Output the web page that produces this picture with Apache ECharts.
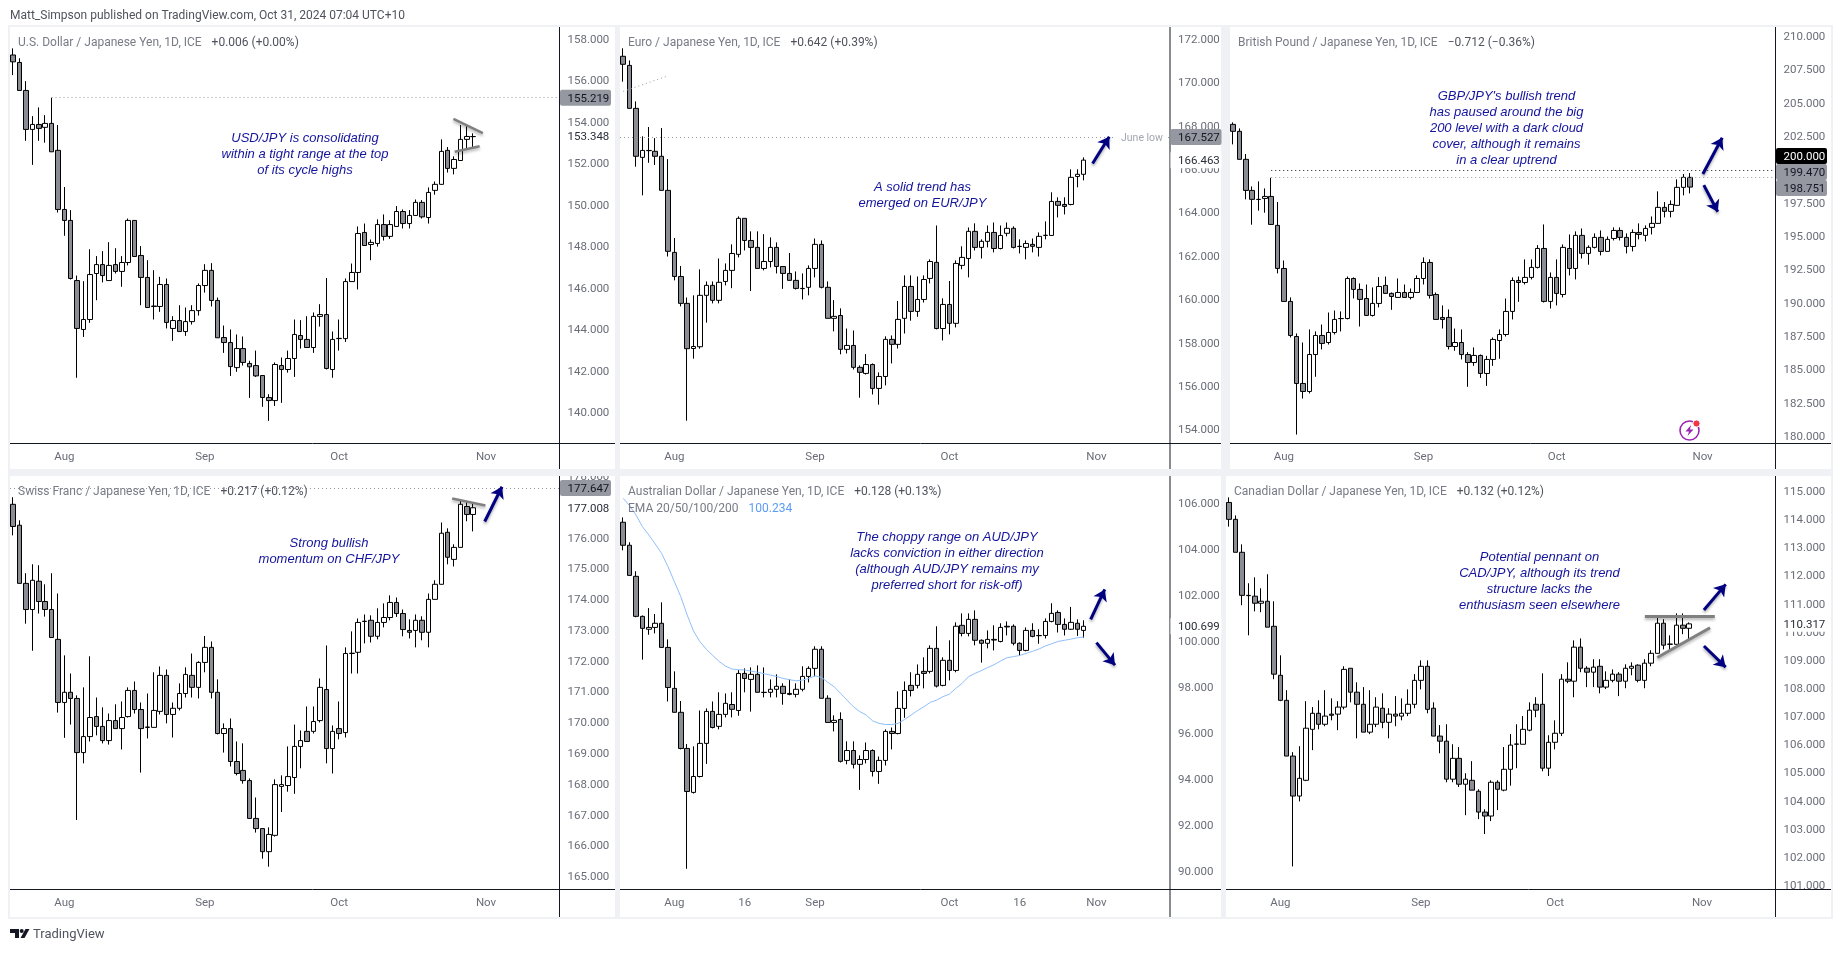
<!DOCTYPE html>
<html>
<head>
<meta charset="utf-8">
<title>JPY crosses</title>
<style>
  html, body { margin: 0; padding: 0; background: #fff; }
  #chart { width: 1842px; height: 958px; }
</style>
<script src="https://cdn.jsdelivr.net/npm/echarts@6/dist/echarts.min.js"></script>
</head>
<body>
<div id="chart"></div>
<script>
// candles are [open, close, low, high]
const usdjpy = [
  [157.28,156.95,156.31,157.60],[156.92,155.57,155.57,157.12],[155.57,153.69,153.14,156.02],[153.69,153.93,151.98,154.33],
  [153.93,153.74,153.14,154.75],[153.79,153.98,153.05,154.38],[153.98,152.61,152.61,155.22],[152.68,149.83,149.68,153.90],
  [149.83,149.30,148.56,150.91],[149.30,146.50,146.45,149.80],[146.40,144.09,141.71,146.64],[144.04,144.52,143.68,146.37],
  [144.52,146.69,144.36,147.91],[146.74,147.17,145.45,147.58],[147.17,146.64,146.31,147.82],[146.40,147.13,146.40,148.25],
  [147.17,146.84,146.74,147.96],[146.84,147.27,146.10,147.58],[147.27,149.30,147.13,149.39],[149.30,147.56,147.56,149.30],
  [147.61,146.55,145.21,148.06],[146.55,145.10,145.10,147.38],[145.17,145.15,144.52,146.90],[145.15,146.21,144.89,146.58],
  [146.21,144.38,144.09,146.50],[144.09,144.47,143.49,144.68],[144.47,143.94,143.94,145.21],[143.94,144.42,143.73,145.10],
  [144.42,144.95,144.28,145.21],[144.95,146.16,144.71,146.26],[146.16,146.89,145.82,147.19],[146.89,145.44,145.15,147.24],
  [145.44,143.64,143.64,145.58],[143.65,143.41,142.91,144.23],[143.41,142.25,141.80,144.04],[142.20,143.12,142.00,143.80],
  [143.12,142.45,142.30,143.70],[142.40,142.24,140.74,142.53],[142.30,141.80,141.75,143.02],[141.82,140.76,140.31,141.82],
  [140.76,140.61,139.63,140.92],[140.61,142.35,140.35,142.45],[142.30,142.11,140.50,142.69],[142.11,142.64,141.96,143.02],
  [142.64,143.80,141.75,144.52],[143.75,143.56,143.12,144.49],[143.56,143.17,143.17,144.68],[143.17,144.67,142.91,144.86],
  [144.67,144.76,144.18,145.26],[144.76,142.16,142.11,146.52],[142.11,143.56,141.71,143.94],[143.60,143.61,143.02,144.52],
  [143.60,146.35,143.44,146.50],[146.35,146.79,146.35,147.22],[146.79,148.67,145.97,149.01],[148.72,148.09,148.09,149.15],
  [148.14,148.24,147.38,148.38],[148.19,149.10,148.04,149.35],[149.10,148.53,148.33,149.59],[148.53,149.10,148.41,149.31],
  [149.01,149.73,149.01,149.99],[149.73,149.15,148.91,149.83],[149.15,149.54,148.91,149.80],[149.54,150.17,149.54,150.31],
  [150.17,149.47,149.39,150.28],[149.44,150.65,149.15,150.89],[150.75,151.04,150.54,151.18],[151.04,152.63,151.04,153.21],
  [152.68,151.81,151.61,152.84],[151.81,152.24,151.52,152.39],[152.19,153.21,152.19,153.90],[153.21,153.35,152.77,153.95],
  [153.342,153.348,152.77,153.50]
]
const eurjpy = [
  [171.25,170.88,170.08,171.62],[170.83,168.85,168.85,171.06],[168.85,166.64,166.16,169.17],[166.59,166.91,164.84,167.56],
  [166.91,166.90,166.34,167.99],[166.87,166.64,166.24,167.48],[166.64,165.07,165.07,167.94],[165.07,162.26,162.02,166.51],
  [162.21,161.10,160.92,162.87],[161.10,159.86,159.72,161.58],[159.86,157.77,154.45,160.13],[157.78,157.87,157.31,160.23],
  [157.86,160.23,157.77,161.43],[160.23,160.69,158.97,160.87],[160.69,160.00,159.86,160.87],[160.00,160.83,159.86,161.93],
  [160.87,161.38,160.69,161.70],[161.38,162.16,160.56,162.58],[162.12,163.78,161.98,163.87],[163.78,162.76,162.30,163.78],
  [162.76,162.44,160.43,163.18],[162.44,161.47,161.47,163.18],[161.47,161.79,161.38,163.05],[161.79,162.44,161.52,162.90],
  [162.44,161.56,161.24,162.67],[161.56,161.24,160.53,161.56],[161.24,160.92,160.92,162.18],[160.92,160.55,160.50,161.33],
  [160.55,160.54,160.04,161.24],[160.60,161.47,160.23,161.61],[161.47,162.58,161.06,162.85],[162.58,160.60,160.55,162.76],
  [160.60,159.17,159.17,160.87],[159.17,159.26,158.57,160.01],[159.30,157.74,157.51,159.63],[157.74,157.92,157.55,158.70],
  [157.92,156.91,156.81,158.61],[156.91,156.68,155.51,157.00],[156.63,157.04,156.58,157.52],[157.04,155.94,155.66,157.09],
  [155.94,156.49,155.19,156.68],[156.49,158.20,156.08,158.34],[158.20,157.97,157.09,158.38],[157.97,159.12,157.78,159.97],
  [159.17,160.64,158.47,161.15],[160.64,159.49,159.06,161.15],[159.49,160.04,159.24,161.10],[160.04,160.96,159.90,161.15],
  [161.01,161.79,160.78,161.89],[161.75,158.70,158.66,163.45],[158.70,159.81,158.15,160.09],[159.81,158.94,158.43,160.89],
  [158.94,161.70,158.75,161.84],[161.61,161.98,161.43,162.49],[161.93,163.18,161.06,163.36],[163.18,162.44,162.30,163.55],
  [162.44,162.72,161.93,162.81],[162.72,163.13,162.44,163.45],[163.13,162.39,162.21,163.59],[162.39,162.99,162.35,163.45],
  [163.09,163.32,162.95,163.59],[163.32,162.44,162.39,163.41],[162.49,162.48,162.16,162.81],[162.44,162.62,161.89,162.76],
  [162.58,162.49,162.21,162.85],[162.44,162.95,162.02,163.13],[162.99,163.00,162.81,163.64],[162.99,164.56,162.99,164.98],
  [164.56,164.38,163.82,164.75],[164.42,164.33,163.96,164.75],[164.42,165.67,164.38,166.04],[165.71,165.81,165.21,166.04],
  [165.81,166.463,165.53,166.59]
]
const gbpjpy = [
  [203.45,202.93,201.95,203.60],[202.93,200.83,200.83,203.15],[200.83,198.50,197.83,201.23],[198.50,197.83,195.93,198.80],
  [197.83,197.82,196.98,199.18],[197.90,198.05,196.83,198.65],[198.05,195.95,195.95,199.45],[195.88,192.65,192.28,197.63],
  [192.65,190.18,190.18,193.25],[190.18,187.63,187.48,190.48],[187.55,184.03,180.20,187.78],[184.03,183.43,182.90,187.10],
  [183.43,186.20,183.28,188.08],[186.20,187.63,184.53,187.93],[187.63,187.03,186.58,188.45],[187.10,187.85,186.95,189.35],
  [187.85,188.83,187.70,189.50],[188.90,188.89,187.93,189.43],[188.90,191.90,188.83,192.05],[191.90,191.08,190.40,191.98],
  [191.08,190.33,188.30,191.53],[190.40,189.13,189.13,191.45],[189.13,190.03,189.05,191.23],[190.03,191.30,189.73,192.00],
  [191.38,190.78,190.78,192.05],[190.78,190.55,189.55,190.85],[190.48,190.85,190.48,191.90],[190.85,190.48,190.48,191.45],
  [190.48,190.85,190.33,191.15],[190.85,191.90,190.85,192.13],[191.90,193.10,191.45,193.48],[193.10,190.63,190.40,193.33],
  [190.70,188.83,188.83,190.85],[188.98,188.83,188.15,189.88],[188.98,186.80,186.58,189.58],[186.80,187.10,186.48,188.15],
  [187.10,186.20,185.83,188.08],[186.20,185.60,183.78,186.38],[185.60,186.13,185.35,186.73],[186.13,184.78,184.45,186.20],
  [184.78,185.83,183.85,186.10],[185.83,187.33,185.35,187.48],[187.25,187.70,185.88,188.08],[187.70,189.43,187.55,190.40],
  [189.43,191.75,188.83,191.98],[191.75,191.60,190.15,192.05],[191.60,191.98,191.45,193.33],[191.98,192.73,191.83,193.33],
  [192.73,194.15,192.65,194.40],[194.15,190.18,190.10,195.95],[190.18,191.98,189.65,192.35],[191.98,190.78,189.88,193.33],
  [190.70,194.23,190.48,194.45],[194.15,192.65,192.13,195.20],[192.65,195.13,191.83,195.43],[195.13,193.78,193.40,195.65],
  [193.78,194.23,192.93,194.38],[194.23,194.98,194.15,195.28],[194.98,193.93,193.63,195.50],[193.93,194.83,193.93,195.05],
  [194.90,195.50,194.75,195.73],[195.50,194.98,194.75,195.73],[194.98,194.30,193.78,195.28],[194.30,195.35,193.93,195.58],
  [195.35,195.20,194.83,196.03],[195.13,195.65,194.68,195.88],[195.73,196.03,195.20,196.55],[196.03,197.23,196.03,198.43],
  [197.23,196.93,196.48,197.63],[196.93,197.45,196.48,197.75],[197.38,198.73,197.38,199.33],[198.73,199.48,198.13,199.73],
  [199.48,198.751,198.28,199.80]
]
const chfjpy = [
  [177.12,176.40,176.11,177.35],[176.44,174.55,174.55,176.60],[174.55,173.70,173.24,174.88],[173.70,174.65,172.36,175.17],
  [174.62,173.96,173.57,175.14],[173.96,173.70,173.47,174.52],[173.70,172.79,172.79,174.88],[172.73,170.68,170.35,174.22],
  [170.68,171.01,169.53,172.21],[171.01,170.81,169.96,171.62],[170.81,169.05,166.86,170.91],[169.05,169.57,168.70,171.17],
  [169.57,170.19,169.41,172.18],[170.22,169.90,169.61,170.84],[169.90,169.44,169.35,170.52],[169.44,170.09,169.31,170.32],
  [170.09,169.83,169.83,170.62],[169.83,170.19,169.15,170.71],[170.22,171.07,170.19,171.17],[171.07,170.45,170.32,171.36],
  [170.45,169.83,168.40,170.68],[169.88,169.87,169.51,170.97],[169.87,170.42,169.87,171.66],[170.39,171.56,170.29,171.85],
  [171.56,170.29,170.00,171.75],[170.29,170.49,169.54,170.68],[170.49,170.97,170.42,171.30],[170.97,171.59,170.84,171.82],
  [171.56,171.17,170.84,172.27],[171.17,171.98,170.81,172.02],[171.98,172.47,171.66,172.84],[172.47,171.01,170.81,172.66],
  [171.01,169.67,169.64,171.43],[169.67,169.83,169.05,170.00],[169.83,168.76,168.60,170.16],[168.76,168.37,168.31,169.41],
  [168.47,168.14,168.04,169.35],[168.14,166.91,166.91,168.21],[166.91,166.58,166.45,167.59],[166.58,165.83,165.60,166.58],
  [165.83,166.39,165.34,166.62],[166.36,168.01,166.32,168.18],[167.95,168.01,167.12,168.31],[167.98,168.27,167.78,169.25],
  [168.24,169.25,167.71,169.96],[169.25,169.44,168.54,169.77],[169.74,169.41,169.41,170.55],[169.74,170.06,169.67,170.55],
  [170.09,171.17,170.03,171.46],[171.10,169.18,168.70,172.53],[169.18,169.74,168.37,169.93],[169.83,169.67,169.48,170.71],
  [169.70,172.27,169.54,172.47],[172.27,172.28,171.62,172.99],[172.31,173.28,171.62,173.41],[173.31,173.32,172.60,173.54],
  [173.35,172.83,172.63,173.51],[172.83,173.28,172.73,173.74],[173.28,173.44,173.12,173.90],[173.44,173.93,173.35,174.16],
  [173.93,173.57,173.46,174.09],[173.57,173.05,172.83,173.70],[173.02,172.96,172.76,173.38],[173.02,173.35,172.47,173.54],
  [173.35,172.96,172.70,173.48],[172.96,174.03,172.47,174.22],[174.03,174.52,174.03,174.65],[174.52,176.18,174.52,176.53],
  [176.21,175.40,175.17,176.34],[175.33,175.72,175.10,175.82],[175.72,177.12,175.72,177.25],[177.05,176.79,176.57,177.22],
  [176.79,177.008,176.24,177.15]
]
const audjpy = [
  [105.22,104.22,104.00,105.43],[104.22,102.91,102.91,104.35],[102.87,101.13,101.09,103.09],[101.13,100.61,99.25,101.17],
  [100.57,100.65,100.33,101.49],[100.65,100.83,100.39,101.23],[100.83,99.78,99.78,101.74],[99.78,98.04,97.43,100.13],
  [98.00,96.96,96.96,98.74],[96.96,95.39,95.35,97.45],[95.39,93.52,90.16,95.58],[93.48,94.17,93.43,95.48],
  [94.17,95.61,94.13,97.04],[95.61,97.00,94.72,97.13],[97.00,96.30,96.26,97.43],[96.35,96.87,96.22,97.83],
  [96.87,97.35,96.74,97.78],[97.30,97.09,96.74,97.83],[97.04,98.65,96.81,98.80],[98.65,98.43,97.83,98.87],
  [98.39,98.61,96.99,98.91],[98.61,97.83,97.83,99.00],[97.83,97.82,97.61,98.91],[97.83,97.96,97.61,98.39],
  [97.96,98.09,97.61,98.61],[98.09,97.78,97.29,98.22],[97.78,97.74,97.70,98.39],[97.74,97.96,97.61,98.22],
  [97.96,98.52,97.87,98.96],[98.52,98.87,98.26,98.96],[98.87,99.70,98.52,99.83],[99.70,97.57,97.57,99.83],
  [97.57,96.52,96.52,97.70],[96.52,96.61,96.13,96.83],[96.65,94.83,94.78,96.96],[94.87,95.30,94.70,95.70],
  [95.30,94.70,94.52,95.70],[94.70,94.91,93.59,95.09],[94.91,95.30,94.74,95.65],[95.30,94.39,94.17,95.35],
  [94.39,94.87,93.85,95.04],[94.87,96.13,94.65,96.22],[96.13,96.04,95.35,96.30],[96.04,97.13,96.00,97.87],
  [97.13,97.91,96.72,98.30],[98.13,97.91,97.65,98.70],[98.13,98.61,98.00,99.04],[98.74,98.65,98.00,99.35],
  [98.74,99.74,98.65,99.87],[99.74,98.10,98.04,100.70],[98.13,99.22,98.09,99.35],[99.22,98.78,98.35,100.09],
  [98.78,100.70,98.70,100.87],[100.74,100.39,100.26,101.26],[100.39,101.00,100.26,101.26],[101.00,100.09,99.87,101.39],
  [100.09,99.96,99.12,100.13],[99.96,100.13,99.74,100.52],[100.13,100.10,99.65,100.74],[100.04,100.65,100.00,100.83],
  [100.70,100.67,100.30,100.91],[100.70,99.96,99.87,100.78],[99.96,99.65,99.43,100.00],[99.65,100.52,99.61,100.65],
  [100.52,100.26,100.22,100.83],[100.30,100.29,99.94,100.57],[100.30,100.91,100.17,101.04],[100.91,101.26,100.87,101.70],
  [101.30,100.78,100.43,101.39],[100.78,100.57,100.30,101.04],[100.57,100.87,100.54,101.54],[100.83,100.57,100.28,101.00],
  [100.52,100.699,100.20,100.96]
]
const audEma = [
  106.26,105.94,105.54,105.03,104.67,104.28,103.87,103.29,102.64,101.99,101.19,100.49,100.03,99.70,99.43,99.17,98.97,98.84,98.81,98.80,
  98.75,98.70,98.64,98.58,98.52,98.43,98.38,98.33,98.36,98.43,98.54,98.48,98.26,98.07,97.78,97.49,97.20,96.99,96.84,96.59,
  96.48,96.43,96.43,96.48,96.65,96.84,97.03,97.20,97.39,97.49,97.64,97.75,98.00,98.22,98.51,98.65,98.77,98.91,99.03,99.19,
  99.33,99.38,99.43,99.52,99.61,99.71,99.84,99.94,100.04,100.09,100.14,100.20,100.234
]
const cadjpy = [
  [114.63,114.03,113.77,114.81],[114.03,112.86,112.86,114.17],[112.86,111.33,110.98,113.14],[111.33,111.32,109.91,111.76],
  [111.30,111.05,110.76,111.97],[111.05,111.12,110.73,111.58],[111.12,110.20,110.20,112.08],[110.23,108.53,108.35,111.12],
  [108.49,107.60,107.57,109.20],[107.60,105.62,105.62,107.96],[105.62,104.20,101.70,105.76],[104.20,104.83,104.01,105.97],
  [104.76,106.61,104.73,107.57],[106.57,107.14,105.83,107.36],[107.14,106.75,106.57,107.60],[106.75,107.04,106.68,107.96],
  [107.11,107.07,106.89,107.67],[107.11,107.36,106.54,107.57],[107.36,108.70,107.28,108.81],[108.74,107.89,107.53,108.74],
  [107.89,107.46,106.25,108.24],[107.46,106.47,106.47,108.07],[106.47,106.75,106.40,107.96],[106.75,107.36,106.65,107.71],
  [107.32,106.82,106.61,107.85],[106.82,107.11,106.25,107.32],[107.11,107.04,106.68,107.75],[107.04,107.14,106.89,107.67],
  [107.14,107.46,107.04,107.99],[107.46,108.31,107.32,108.53],[108.31,108.81,107.99,109.02],[108.81,107.28,107.14,109.02],
  [107.32,106.33,106.33,107.53],[106.33,106.15,105.72,106.72],[106.15,104.80,104.69,106.75],[104.80,105.54,104.69,106.04],
  [105.54,104.62,104.52,105.94],[104.62,104.80,103.52,105.01],[104.76,104.41,104.41,105.44],[104.37,103.63,103.38,104.44],
  [103.63,103.49,102.85,103.73],[103.49,104.69,103.31,104.76],[104.69,104.44,103.70,104.76],[104.41,105.15,104.37,105.94],
  [105.15,106.01,104.57,106.40],[106.04,106.05,105.19,106.75],[106.04,106.57,106.04,107.04],[106.54,107.25,106.50,107.53],
  [107.46,107.25,107.00,107.71],[107.46,105.19,105.08,108.56],[105.19,106.11,104.91,106.36],[106.11,106.43,105.86,106.89],
  [106.43,108.35,106.33,108.53],[108.35,108.28,108.21,108.95],[108.28,109.49,107.71,109.73],[109.49,108.74,108.60,109.80],
  [108.74,108.60,108.07,108.81],[108.60,108.78,108.07,109.06],[108.81,108.07,107.85,109.06],[108.07,108.31,108.00,108.63],
  [108.31,108.53,108.24,108.70],[108.53,108.28,107.75,108.60],[108.28,108.74,108.03,108.88],[108.74,108.81,108.49,108.95],
  [108.85,108.31,108.24,108.88],[108.31,108.92,108.03,109.06],[108.92,109.27,108.81,109.38],[109.27,110.34,109.27,110.62],
  [110.34,109.56,109.41,110.48],[109.59,109.60,109.38,109.91],[109.59,110.27,109.59,110.69],[110.27,110.16,109.95,110.69],
  [110.16,110.317,109.77,110.37]
]

const usdTicks = [140,142,144,146,148,150,152,154,156,158]
const eurTicks = [154,156,158,160,162,164,166,168,170,172]
const gbpTicks = [180,182.5,185,187.5,190,192.5,195,197.5,200,202.5,205,207.5,210]
const chfTicks = [165,166,167,168,169,170,171,172,173,174,175,176,177,178]
const audTicks = [90,92,94,96,98,100,102,104,106]
const cadTicks = [101,102,103,104,105,106,107,108,109,110,111,112,113,114,115]

const monthLabels = { '2024-08-01': 'Aug', '2024-09-02': 'Sep', '2024-10-01': 'Oct', '2024-11-01': 'Nov' }
const audLabels = { ...monthLabels, '2024-08-16': '16', '2024-10-16': '16' }

// weekdays from the first bar on, the last ones are the empty room on the right
const days = []
for (let d = new Date(Date.UTC(2024, 6, 22)); days.length < 86; d.setUTCDate(d.getUTCDate() + 1)) {
  if (d.getUTCDay() % 6 !== 0) days.push(d.toISOString().slice(0, 10))
}

const FONT = 'Roboto, "Open Sans", sans-serif'
const NOTE_FONT = '"Liberation Sans", Arial, sans-serif'
const NAVY = '#000080'
const GREY_LINE = '#808080'
const TAG_GREY = '#9598a1'
const TICK_GREY = '#6a6d78'
const GAP = '#f0f1f5'

// drawn lines, [bar, price] at both ends
const hline = (from, price, color) => ({ kind: 'dot', color: color || '#9598a1', pts: [[from, price], [85.5, price]] })
const grey = (a, b, w) => ({ kind: 'grey', w: w || 2.5, pts: [a, b] })
const arrow = (a, b) => ({ kind: 'arrow', pts: [a, b] })

const panels = [
  {
    name: 'U.S. Dollar / Japanese Yen, 1D, ICE', change: '+0.006 (+0.00%)',
    box: { left: 10, axis: 559.5, right: 615, top: 27, line: 443.5, bottom: 469 },
    head: 18, candles: usdjpy, ticks: usdTicks, min: 138.54, max: 158.63, labels: monthLabels,
    drawn: [hline(6, 155.219), grey([68.9, 154.20], [73.5, 153.51]), grey([69.1, 152.61], [73, 152.88])],
    tags: [[155.219, 'grey'], [153.348, 'white']],
    note: { x: 305, y: 138, lines: ['USD/JPY is consolidating', 'within a tight range at the top', 'of its cycle highs'] }
  },
  {
    name: 'Euro / Japanese Yen, 1D, ICE', change: '+0.642 (+0.39%)',
    box: { left: 620, axis: 1170, right: 1221, top: 27, line: 443.5, bottom: 469 },
    head: 628, candles: eurjpy, ticks: eurTicks, min: 153.40, max: 172.60, labels: monthLabels,
    drawn: [
      { kind: 'dot', color: '#9598a1', pts: [[-0.5, 167.527], [85.5, 167.527]] },
      { kind: 'dot', color: '#9598a1', pts: [[0, 169.63], [6.74, 170.32]] },
      arrow([73.4, 166.31], [76, 167.54])
    ],
    tags: [[167.527, 'grey'], [166.463, 'white']],
    note: { x: 922.5, y: 187, lines: ['A solid trend has', 'emerged on EUR/JPY'] }
  },
  {
    name: 'British Pound / Japanese Yen, 1D, ICE', change: '\u22120.712 (\u22120.36%)',
    box: { left: 1230, axis: 1775.5, right: 1831, top: 27, line: 443.5, bottom: 469 },
    head: 1238, candles: gbpjpy, ticks: gbpTicks, min: 179.53, max: 210.75, labels: monthLabels,
    drawn: [
      hline(6, 200, '#131722'), hline(6, 199.47),
      arrow([74.05, 199.73], [77.1, 202.45]), arrow([74.2, 198.9], [76.4, 196.9])
    ],
    tags: [],
    note: { x: 1506.5, y: 96, lines: ["GBP/JPY's bullish trend", 'has paused around the big', '200 level with a dark cloud', 'cover, although it remains', 'in a clear uptrend'] }
  },
  {
    name: 'Swiss Franc / Japanese Yen, 1D, ICE', change: '+0.217 (+0.12%)',
    box: { left: 10, axis: 559.5, right: 615, top: 476, line: 889.5, bottom: 917 },
    head: 18, candles: chfjpy, ticks: chfTicks, min: 164.60, max: 178.04, labels: monthLabels,
    drawn: [hline(-0.5, 177.647), grey([68.7, 177.31], [73.9, 177.08]), arrow([73.8, 176.56], [76.5, 177.69])],
    tags: [[177.647, 'grey'], [177.008, 'white']],
    note: { x: 329, y: 543, lines: ['Strong bullish', 'momentum on CHF/JPY'] }
  },
  {
    name: 'Australian Dollar / Japanese Yen, 1D, ICE', change: '+0.128 (+0.13%)',
    box: { left: 620, axis: 1170, right: 1221, top: 476, line: 889.5, bottom: 917 },
    head: 628, candles: audjpy, ticks: audTicks, min: 89.26, max: 107.23, labels: audLabels, ema: audEma,
    drawn: [arrow([73.1, 101], [75.3, 102.3]), arrow([74, 99.99], [76.9, 99.01])],
    tags: [[100.699, 'white']],
    note: { x: 947, y: 537, lines: ['The choppy range on AUD/JPY', 'lacks conviction in either direction', '(although AUD/JPY remains my', 'preferred short for risk-off)'] }
  },
  {
    name: 'Canadian Dollar / Japanese Yen, 1D, ICE', change: '+0.132 (+0.12%)',
    box: { left: 1226, axis: 1775.5, right: 1831, top: 476, line: 889.5, bottom: 917 },
    head: 1234, candles: cadjpy, ticks: cadTicks, min: 100.88, max: 115.57, labels: monthLabels,
    drawn: [
      grey([65.06, 110.59], [76, 110.59], 3), grey([67, 109.12], [75.26, 110.18], 3),
      arrow([74.3, 110.81], [77.7, 111.72]), arrow([74.3, 109.53], [77.7, 108.78])
    ],
    tags: [[110.317, 'white']],
    note: { x: 1539.5, y: 557, lines: ['Potential pennant on', 'CAD/JPY, although its trend', 'structure lacks the', 'enthusiasm seen elsewhere'] }
  }
]

const chart = echarts.init(document.getElementById('chart'), null, { renderer: 'canvas' })

const grids = [], xAxes = [], yAxes = [], series = [], titles = []
const graphics = [
  { type: 'rect', z: -2, shape: { x: 8, y: 25, width: 1825, height: 894 }, style: { fill: GAP } }
]

const addText = (x, y, text, style, z) => graphics.push({
  type: 'text', z: z || 20, x, y,
  style: Object.assign({ text, font: '11px ' + FONT, fill: '#131722', verticalAlign: 'middle' }, style)
})
const addLine = (x1, y1, x2, y2) => graphics.push({
  type: 'line', z: 15, shape: { x1, y1, x2, y2 }, style: { stroke: '#131722', lineWidth: 1 }
})

panels.forEach((p, i) => {
  const b = p.box
  graphics.push({ type: 'rect', z: -1, shape: { x: b.left, y: b.top, width: b.right - b.left, height: b.bottom - b.top }, style: { fill: '#fff' } })
  addLine(b.left, b.line, b.right, b.line)
  addLine(b.axis, b.top, b.axis, b.bottom)

  grids.push({ left: b.left, top: b.top, width: b.axis - b.left, height: b.line - b.top })
  xAxes.push({
    type: 'category', gridIndex: i, data: days, z: 12,
    axisLine: { show: false }, axisTick: { show: false }, splitLine: { show: false },
    axisLabel: {
      color: TICK_GREY, fontFamily: FONT, fontSize: 11.5, margin: 8,
      interval: (idx, val) => p.labels[val] != null,
      formatter: val => p.labels[val] || ''
    }
  })
  // plain value axis over the same bars, only for the hand drawn lines
  xAxes.push({ type: 'value', gridIndex: i, min: -0.5, max: 85.5, show: false })
  yAxes.push({
    type: 'value', gridIndex: i, position: 'right', min: p.min, max: p.max,
    axisLine: { show: false }, axisTick: { show: false }, splitLine: { show: false },
    axisLabel: {
      color: TICK_GREY, fontFamily: FONT, fontSize: 11.5, margin: 8, hideOverlap: false, padding: [2, 0, 0, 0],
      customValues: p.ticks, formatter: v => v.toFixed(3)
    }
  })

  series.push({
    type: 'candlestick', xAxisIndex: i * 2, yAxisIndex: i, data: p.candles, barWidth: 5, z: 3,
    itemStyle: { color: '#ffffff', color0: '#8b8d95', borderColor: '#000000', borderColor0: '#000000', borderColorDoji: '#000000', borderWidth: 1 }
  })
  if (p.ema) {
    series.push({
      type: 'line', xAxisIndex: i * 2, yAxisIndex: i, data: p.ema, showSymbol: false, z: 4,
      lineStyle: { color: '#90bff9', width: 1 }
    })
  }
  series.push({
    type: 'line', xAxisIndex: i * 2 + 1, yAxisIndex: i, data: [], z: 5,
    markLine: {
      silent: true, animation: false, label: { show: false }, symbol: 'none',
      data: p.drawn.map(d => {
        const ends = [{ coord: d.pts[0], symbol: 'none' }, { coord: d.pts[1], symbol: d.kind === 'arrow' ? 'arrow' : 'none', symbolSize: 11 }]
        let lineStyle
        if (d.kind === 'dot') lineStyle = { color: d.color, type: [1, 3], width: 1 }
        if (d.kind === 'grey') lineStyle = { color: GREY_LINE, type: 'solid', width: d.w, shadowBlur: 3, shadowColor: 'rgba(0,0,0,.3)', shadowOffsetY: 2 }
        if (d.kind === 'arrow') lineStyle = { color: NAVY, type: 'solid', width: 3, shadowBlur: 3, shadowColor: 'rgba(0,0,0,.35)', shadowOffsetY: 2 }
        ends[0].lineStyle = lineStyle
        return ends
      })
    }
  })

  const headRich = {
    n: { color: '#787b86', fontFamily: FONT, fontSize: 12, fontWeight: 'normal' },
    c: { color: '#50535e', fontFamily: FONT, fontSize: 12, fontWeight: 'normal' },
    e: { color: '#5b9cf6', fontFamily: FONT, fontSize: 12, fontWeight: 'normal' }
  }
  titles.push({
    left: p.head, top: b.top + 7, padding: 0,
    text: '{n|' + p.name + '}  {c|' + p.change + '}',
    textStyle: { rich: headRich }
  })
  if (p.ema) {
    titles.push({
      left: p.head, top: b.top + 24, padding: 0,
      text: '{n|EMA 20/50/100/200}  {e|100.234}',
      textStyle: { rich: headRich }
    })
  }

  // last price and line tags on the price scale
  const priceY = v => b.top + (p.max - v) / (p.max - p.min) * (b.line - b.top)
  p.tags.forEach(t => {
    const y = priceY(t[0])
    graphics.push({
      type: 'rect', z: 18,
      shape: { x: b.axis + 0.5, y: y - 8, width: 51, height: 16, r: t[1] === 'grey' ? 2 : 0 },
      style: { fill: t[1] === 'grey' ? TAG_GREY : '#fff' }
    })
    addText(b.axis + 8, y + 1, t[0].toFixed(3), { font: '11.5px ' + FONT, fill: t[1] === 'grey' ? '#131722' : '#2a2e39' })
  })

  p.note.lines.forEach((line, k) => {
    addText(p.note.x, p.note.y + k * 16, line, { font: 'italic 13px ' + NOTE_FONT, fill: '#14149c', align: 'center' })
  })
})

// the three pushed-up tags on GBP/JPY
const gbpAxis = panels[2].box.axis
;[[200, 156, '#000000', '#ffffff'], [199.47, 172, TAG_GREY, '#131722'], [198.751, 188, TAG_GREY, '#131722']].forEach(t => {
  graphics.push({ type: 'rect', z: 18, shape: { x: gbpAxis + 0.5, y: t[1] - 8, width: 51, height: 16, r: 2 }, style: { fill: t[2] } })
  addText(gbpAxis + 8, t[1] + 1, t[0].toFixed(3), { font: '11.5px ' + FONT, fill: t[3] })
})

// labels that run out of their pane get cut off
graphics.push({ type: 'rect', z: 10, shape: { x: 560, y: 469, width: 55, height: 7 }, style: { fill: GAP } })
graphics.push({ type: 'rect', z: 10, shape: { x: 1776, y: 890, width: 55, height: 14 }, style: { fill: '#fff' } })

// "June low" sits on the dotted line
graphics.push({ type: 'rect', z: 16, shape: { x: 1116, y: 130, width: 52, height: 15 }, style: { fill: '#fff' } })
addText(1142, 138, 'June low', { font: '10.5px ' + FONT, fill: '#a3a6af', align: 'center' })

addText(10, 15.5, 'Matt_Simpson published on TradingView.com, Oct 31, 2024 07:04 UTC+10', { font: '12px ' + FONT, fill: '#50535e' })

// logo and brand name
graphics.push(
  { type: 'polygon', z: 20, shape: { points: [[10, 929], [19, 929], [19, 938], [15, 938], [15, 933], [10, 933]] }, style: { fill: '#131722' } },
  { type: 'circle', z: 20, shape: { cx: 21.7, cy: 931, r: 2 }, style: { fill: '#131722' } },
  { type: 'polygon', z: 20, shape: { points: [[25.5, 929], [29.5, 929], [24.5, 938], [20.5, 938]] }, style: { fill: '#131722' } }
)
addText(33, 935, 'TradingView', { font: '13px ' + FONT, fill: '#50535e' })

// little flash badge on the GBP pane
graphics.push(
  { type: 'circle', z: 20, shape: { cx: 1689.5, cy: 430.5, r: 9.5 }, style: { fill: 'none', stroke: '#9c27b0', lineWidth: 1.6 } },
  { type: 'polygon', z: 20, shape: { points: [[1691, 425], [1685.5, 431.5], [1689, 431.5], [1687.5, 436], [1693.5, 429.5], [1690, 429.5]] }, style: { fill: '#9c27b0' } },
  { type: 'circle', z: 21, shape: { cx: 1696.5, cy: 423.5, r: 3.6 }, style: { fill: '#f23645', stroke: '#fff', lineWidth: 1 } }
)

chart.setOption({
  animation: false,
  backgroundColor: '#ffffff',
  tooltip: { show: false },
  title: titles,
  grid: grids,
  xAxis: xAxes,
  yAxis: yAxes,
  series,
  graphic: { elements: graphics }
})

window.addEventListener('resize', () => chart.resize())
</script>
</body>
</html>
